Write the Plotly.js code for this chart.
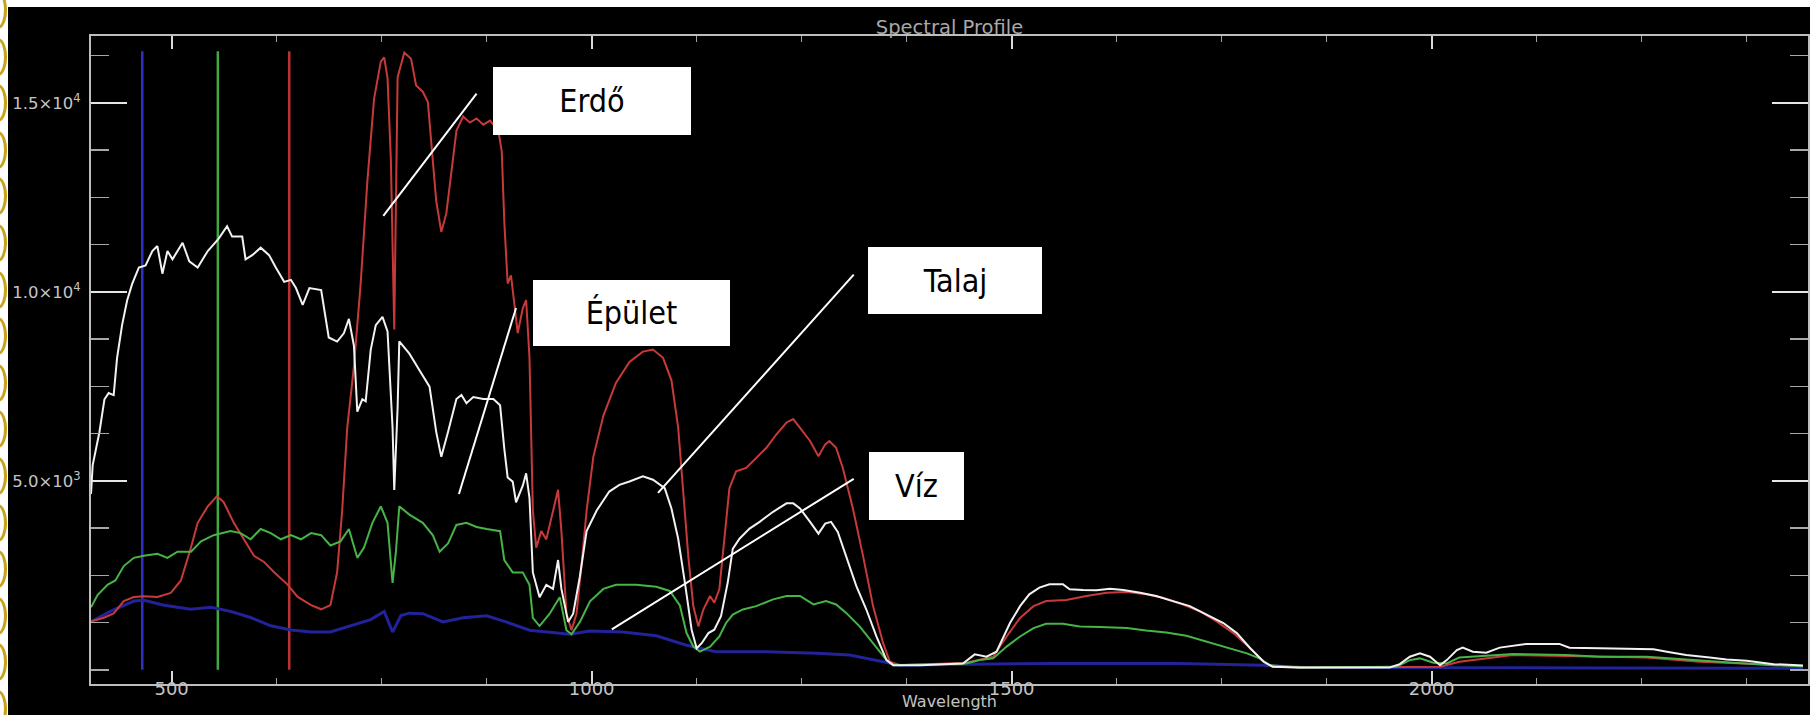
<!DOCTYPE html>
<html>
<head>
<meta charset="utf-8">
<script src="https://cdn.plot.ly/plotly-3.0.1.min.js"></script>
<style>
  html, body { margin: 0; padding: 0; background: #ffffff; width: 1810px; height: 715px; overflow: hidden; }
  #plot { position: absolute; left: 8px; top: 7px; width: 1802px; height: 708px; }
  .ring { position: absolute; left: -11px; width: 12px; height: 32px; border: 3px solid #c9a21c; border-radius: 50%; }
</style>
</head>
<body>
<div id="rings"></div>
<div id="plot"></div>
<script>
// ---------- data ----------
// Talaj (soil) - white
const wlTalaj = [404,406,410,414,420,425,431,435,441,447,453,461,469,477,483,489,495,501,513,521,531,543,556,566,572,584,588,596,606,616,624,634,642,648,656,664,678,687,697,705,711,717,721,727,731,737,743,751,757,763,765,769,771,783,795,807,815,821,829,839,845,851,859,871,883,891,896,900,906,910,918,922,926,930,938,946,954,960,964,972,978,986,994,1006,1021,1033,1045,1061,1073,1087,1095,1103,1111,1119,1125,1131,1139,1146,1154,1162,1168,1176,1188,1200,1216,1232,1240,1248,1260,1270,1278,1285,1293,1303,1315,1327,1339,1351,1359,1391,1426,1442,1456,1470,1482,1490,1498,1510,1521,1533,1545,1561,1569,1585,1601,1617,1633,1653,1672,1692,1712,1732,1752,1768,1784,1800,1811,1843,1950,1962,1974,1986,1998,2010,2018,2030,2037,2049,2065,2081,2097,2113,2152,2164,2200,2264,2280,2303,2331,2351,2375,2407,2442];
const talaj = [4652,5414,5850,6286,7157,7320,7266,8246,9118,9771,10207,10643,10697,11079,11209,10479,11079,10860,11296,10806,10643,11079,11405,11732,11460,11460,10860,10969,11166,10969,10643,10262,10316,10098,9651,10098,10044,8791,8682,8900,9282,8573,6830,7157,7102,8464,9118,9336,8954,6395,4761,6939,8690,8362,7926,7489,6289,5634,6289,7162,7271,7053,7216,7162,7162,6998,5852,5088,4979,4433,4870,5197,4542,2578,1923,2250,2141,2905,2141,1268,1486,2469,3669,4215,4716,4894,4983,5117,5028,4805,4270,3468,2309,1061,571,705,972,1061,1418,2309,3201,3468,3736,3914,4181,4404,4404,4270,3914,3602,3869,3914,3646,3022,2220,1596,883,259,125,125,152,170,410,348,482,883,1239,1685,1997,2175,2264,2264,2130,2113,2104,2148,2113,2041,1952,1819,1685,1462,1239,972,571,214,80,62,62,151,347,436,347,124,258,525,588,481,454,588,641,686,686,588,570,543,481,392,329,276,240,151,116];

// Erdő (forest) - red
const wlErdo = [404,420,431,443,455,467,483,499,511,523,531,543,554,562,574,586,598,610,622,638,650,666,678,689,697,703,709,717,725,733,741,749,753,757,761,765,769,777,785,791,799,805,809,815,821,827,833,839,847,855,863,871,879,889,893,896,900,904,908,912,918,922,926,930,934,940,946,954,960,964,970,976,982,988,994,1002,1014,1029,1045,1061,1073,1085,1095,1103,1109,1115,1121,1127,1133,1141,1146,1152,1158,1164,1172,1184,1196,1208,1220,1232,1240,1248,1260,1270,1278,1283,1291,1299,1311,1323,1335,1347,1355,1367,1446,1478,1494,1510,1526,1541,1565,1589,1613,1637,1660,1680,1704,1724,1744,1764,1784,1800,1811,1843,1990,2010,2033,2065,2097,2160,2256,2319,2407,2442];
const erdo = [1275,1384,1493,1820,1928,1950,1928,2037,2364,3235,3889,4325,4597,4434,3889,3454,3018,2854,2582,2255,1928,1711,1602,1711,2582,4216,6395,8029,10207,12930,15109,16089,16198,15654,13475,9000,15675,16329,16166,15456,15292,15020,14037,12400,11582,12073,13164,14256,14638,14474,14583,14420,14529,14256,13710,11855,10218,10436,9672,8908,9563,9781,8253,4215,3233,3669,3451,4215,4761,3669,1486,1050,1486,2796,4215,5634,6725,7598,8144,8417,8471,8253,7657,6409,4805,3022,1686,1151,1596,1953,1775,2131,3468,4805,5251,5340,5607,5874,6231,6543,6632,6409,6053,5652,5964,6053,5874,5340,4270,3022,1686,705,215,125,188,348,883,1373,1685,1819,1846,1952,2041,2059,1997,1908,1729,1551,1284,972,571,214,80,62,62,80,214,303,392,365,329,214,124,100];

// Épület (building) - green
const wlEpulet = [404,412,424,433,443,455,467,483,495,507,523,535,550,570,582,594,606,618,630,642,654,666,678,689,701,711,721,729,739,749,757,763,767,771,783,799,811,819,829,839,851,863,875,891,896,906,918,926,930,938,950,962,970,976,986,998,1014,1029,1053,1077,1093,1105,1113,1121,1129,1141,1152,1160,1168,1180,1196,1216,1232,1248,1264,1279,1291,1303,1319,1335,1351,1359,1426,1446,1462,1478,1494,1510,1526,1541,1561,1581,1605,1637,1660,1684,1708,1732,1756,1780,1795,1807,1843,1958,1974,1986,2002,2018,2033,2049,2081,2097,2160,2200,2256,2319,2359,2407,2442];
const epulet = [1656,1983,2255,2364,2746,2963,3018,3072,2963,3127,3127,3399,3562,3671,3617,3454,3726,3617,3454,3562,3454,3617,3562,3290,3399,3726,2963,3235,3889,4325,3889,2300,3127,4324,4106,3888,3560,3123,3342,3833,3888,3779,3724,3669,2905,2578,2578,2250,1377,1159,1486,1923,1050,941,1268,1814,2141,2250,2250,2196,2087,1705,973,616,482,616,883,1240,1463,1597,1686,1864,1953,1953,1730,1819,1730,1507,1151,705,259,125,152,170,259,303,615,883,1105,1221,1221,1150,1132,1105,1043,990,901,749,598,437,303,125,63,80,258,303,187,169,329,347,392,419,392,347,347,240,187,124,98];

// Víz (water) - blue
const wlViz = [404,427,455,467,491,523,547,570,594,618,642,666,689,713,737,753,763,773,783,799,823,847,875,898,926,950,974,998,1037,1077,1113,1148,1208,1268,1307,1347,1367,1450,1550,1700,1800,1850,2000,2200,2442];
const viz = [1275,1547,1820,1841,1711,1602,1656,1547,1384,1166,1057,1002,1002,1166,1329,1547,1002,1438,1500,1486,1268,1377,1431,1268,1050,995,941,1030,1000,900,650,482,482,437,393,215,125,150,170,170,120,62,50,50,40];

// RGB band marker wavelengths (vertical lines)
const bandWl = [465, 555, 640];
const bandTop = 16360;

// tick labels
const yTickVals = [5000, 10000, 15000];
const yTickText = ['5.0×10<sup>3</sup>', '1.0×10<sup>4</sup>', '1.5×10<sup>4</sup>'];
const labelNames = ['Erdő', 'Épület', 'Talaj', 'Víz'];

// ---------- decoration: rings on the left edge ----------
const ringsDiv = document.getElementById('rings');
for (let i = 0; i < 16; i++) {
  const r = document.createElement('div');
  r.className = 'ring';
  r.style.top = (10 + i * 46.6 - 19) + 'px';
  ringsDiv.appendChild(r);
}

// ---------- traces ----------
const bandColors = ['#3030c8', '#3fa83f', '#b83232'];
const traces = [];
bandWl.forEach((w, i) => {
  traces.push({ x: [w, w], y: [0, bandTop], mode: 'lines', line: { color: bandColors[i], width: 2.5 }, hoverinfo: 'skip' });
});
traces.push({ x: wlViz, y: viz, mode: 'lines', name: labelNames[3], line: { color: '#22229a', width: 3 } });
traces.push({ x: wlErdo, y: erdo, mode: 'lines', name: labelNames[0], line: { color: '#c83a3a', width: 2 } });
traces.push({ x: wlEpulet, y: epulet, mode: 'lines', name: labelNames[1], line: { color: '#46b446', width: 2 } });
traces.push({ x: wlTalaj, y: talaj, mode: 'lines', name: labelNames[2], line: { color: '#f2f2f2', width: 2 } });

const xFont = { family: 'DejaVu Sans, sans-serif', size: 18, color: '#c4c4c4' };
const yFont = { family: 'DejaVu Sans, sans-serif', size: 16.5, color: '#c4c4c4' };

// label boxes and leader lines
const boxFont = { family: 'Liberation Sans Narrow, DejaVu Sans Condensed, Liberation Sans, sans-serif', size: 32, color: '#000000' };
function box(text, x, y, w, h) {
  return { text: text, x: x, y: y, xref: 'x', yref: 'y', showarrow: false, width: w, height: h,
           bgcolor: '#ffffff', borderpad: 0, borderwidth: 0, font: boxFont, xanchor: 'center', yanchor: 'middle', valign: 'middle' };
}
function leader(x0, y0, x1, y1) {
  return { type: 'line', xref: 'x', yref: 'y', x0: x0, y0: y0, x1: x1, y1: y1, line: { color: '#ffffff', width: 2 } };
}

const layout = {
  width: 1802, height: 708,
  margin: { l: 83, r: 2, t: 29, b: 31 },
  paper_bgcolor: '#000000', plot_bgcolor: '#000000',
  showlegend: false,
  title: { text: 'Spectral Profile', x: 0.5, xref: 'paper', xanchor: 'center', y: 0.971, yref: 'container', yanchor: 'middle',
           font: { family: 'DejaVu Sans, sans-serif', size: 19.5, color: '#a8a8a8' } },
  xaxis: {
    range: [404, 2448], showgrid: false, zeroline: false,
    showline: true, linecolor: '#bdbdbd', linewidth: 2, mirror: 'allticks',
    ticks: 'inside', ticklen: 13, tickwidth: 2, tickcolor: '#d8d8d8',
    tickmode: 'linear', tick0: 0, dtick: 500, tickfont: xFont,
    minor: { ticks: 'inside', tickmode: 'linear', tick0: 0, dtick: 125, ticklen: 6, tickwidth: 1.5, tickcolor: '#a0a0a0', showgrid: false },
    title: { text: 'Wavelength', font: { family: 'DejaVu Sans, sans-serif', size: 16, color: '#c4c4c4' }, standoff: 0 }
  },
  yaxis: {
    range: [-374, 16765], showgrid: false, zeroline: false,
    showline: true, linecolor: '#bdbdbd', linewidth: 2, mirror: 'allticks',
    ticks: 'inside', ticklen: 36, tickwidth: 2, tickcolor: '#e6e6e6',
    tickmode: 'array', tickvals: yTickVals, ticktext: yTickText, tickfont: yFont, ticklabelstandoff: 5,
    minor: { ticks: 'inside', tickmode: 'linear', tick0: 0, dtick: 1250, ticklen: 18, tickwidth: 1.5, tickcolor: '#a8a8a8', showgrid: false }
  },
  annotations: [
    box(labelNames[0], 1000, 15054, 198, 68),
    box(labelNames[1], 1048, 9426, 197, 66),
    box(labelNames[2], 1433, 10308, 174, 67),
    box(labelNames[3], 1387, 4867, 95, 68)
  ],
  shapes: [
    leader(752, 12006, 863, 15242),
    leader(842, 4653, 910, 9573),
    leader(1079, 4680, 1312, 10455),
    leader(1024, 1070, 1312, 5054)
  ]
};

function placeXLabels(gd) {
  // put the x tick labels right under the axis line (glyph tops ~5px below it) and the axis title under them
  const groups = gd.querySelectorAll('g.xaxislayer-above g.xtick');
  if (!groups.length) return;
  groups.forEach(g => g.removeAttribute('transform'));
  const r = groups[0].querySelector('text').getBoundingClientRect();
  const dy = 678.5 - r.top;
  groups.forEach(g => g.setAttribute('transform', 'translate(0,' + dy.toFixed(1) + ')'));
  const tt = gd.querySelector('g.g-xtitle text');
  if (tt) {
    const g = tt.parentNode;
    g.removeAttribute('transform');
    const rt = tt.getBoundingClientRect();
    const dt = 701.5 - (rt.top + rt.height / 2);
    g.setAttribute('transform', 'translate(0,' + dt.toFixed(1) + ')');
  }
}

Plotly.newPlot('plot', traces, layout, { displayModeBar: false, staticPlot: true }).then(gd => {
  placeXLabels(gd);
  gd.on && gd.on('plotly_afterplot', () => placeXLabels(gd));
});
</script>
</body>
</html>
